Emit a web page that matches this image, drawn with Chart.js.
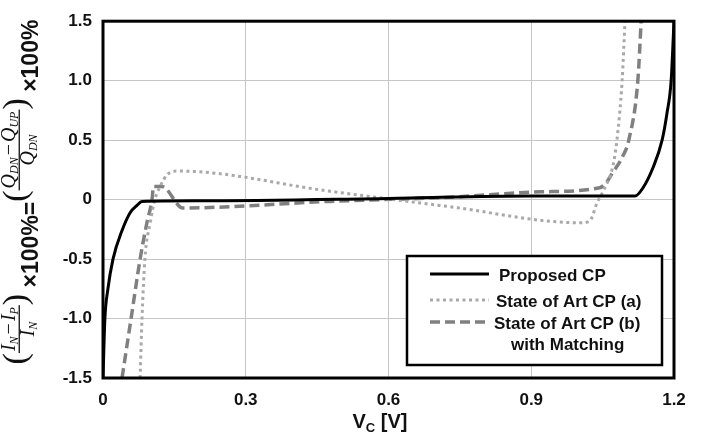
<!DOCTYPE html>
<html>
<head>
<meta charset="utf-8">
<script src="https://cdn.jsdelivr.net/npm/chart.js@4.4.1/dist/chart.umd.min.js"></script>
<style>
  html, body { margin: 0; padding: 0; background: #fff; }
</style>
</head>
<body>
<canvas id="cpChart" width="707" height="435"></canvas>
<script>
// V_C [V] and mismatch error [%]
const vcProposed  = [0, 0.004, 0.01, 0.021, 0.04, 0.057, 0.071, 0.082, 0.2, 0.6, 0.9, 1.118, 1.135, 1.156, 1.175, 1.185, 1.194, 1.2];
const errProposed = [-1.5, -1.0, -0.76, -0.5, -0.26, -0.11, -0.05, -0.015, -0.01, 0.01, 0.03, 0.03, 0.1, 0.27, 0.5, 0.72, 1.0, 1.5];

const vcArtA  = [0.078, 0.082, 0.088, 0.099, 0.109, 0.12, 0.135, 0.158, 0.477, 0.729, 1.002, 1.023, 1.038, 1.051, 1.072, 1.08, 1.091, 1.097];
const errArtA = [-1.5, -1.0, -0.5, -0.2, 0, 0.11, 0.21, 0.24, 0.07, -0.06, -0.195, -0.18, -0.03, 0.07, 0.29, 0.5, 1.0, 1.5];

const vcArtB  = [0.04, 0.059, 0.078, 0.092, 0.103, 0.106, 0.124, 0.168, 0.477, 0.729, 0.918, 1.044, 1.059, 1.07, 1.093, 1.105, 1.124, 1.131];
const errArtB = [-1.5, -1.0, -0.5, -0.2, 0, 0.11, 0.11, -0.07, -0.015, 0.02, 0.065, 0.1, 0.15, 0.22, 0.37, 0.5, 1.0, 1.5];

const xTicks = [0, 0.3, 0.6, 0.9, 1.2];
const xTickLabels = ['0', '0.3', '0.6', '0.9', '1.2'];
const yTicks = [-1.5, -1.0, -0.5, 0, 0.5, 1.0, 1.5];
const yTickLabels = ['-1.5', '-1.0', '-0.5', '0', '0.5', '1.0', '1.5'];

const seriesNames = [['Proposed CP'], ['State of Art CP (a)'], ['State of Art CP (b)', 'with Matching']];

const toPts = (xs, ys) => xs.map((x, i) => ({x: x, y: ys[i]}));

// frame, legend and the two axis titles
const extras = {
  id: 'extras',
  afterDatasetsDraw(chart) {
    const ctx = chart.ctx, a = chart.chartArea;
    ctx.save();
    ctx.strokeStyle = '#000';
    ctx.lineWidth = 3;
    ctx.strokeRect(a.left, a.top, a.right - a.left, a.bottom - a.top);

    // legend box
    ctx.fillStyle = '#fff';
    ctx.fillRect(407, 256, 255, 109);
    ctx.lineWidth = 2.5;
    ctx.strokeRect(407, 256, 255, 109);
    const rowY = [274, 300, 322];
    const textX = [499, 496, 494];
    ctx.font = 'bold 17px "Liberation Sans"';
    ctx.textBaseline = 'middle';
    chart.data.datasets.forEach((ds, i) => {
      ctx.beginPath();
      ctx.strokeStyle = ds.borderColor;
      ctx.lineWidth = ds.borderWidth;
      ctx.setLineDash(ds.borderDash || []);
      ctx.moveTo(430, rowY[i]);
      ctx.lineTo(489, rowY[i]);
      ctx.stroke();
      ctx.setLineDash([]);
      ctx.fillStyle = '#111';
      ctx.textAlign = 'left';
      ctx.fillText(seriesNames[i][0], textX[i], rowY[i] + 2);
      if (seriesNames[i][1]) ctx.fillText(seriesNames[i][1], 511, rowY[i] + 23);
    });

    // x title  V_C [V]
    ctx.fillStyle = '#111';
    ctx.textBaseline = 'alphabetic';
    ctx.textAlign = 'left';
    const big = 'bold 20px "Liberation Sans"', small = 'bold 13px "Liberation Sans"';
    ctx.font = big; const w1 = ctx.measureText('V').width, w3 = ctx.measureText(' [V]').width;
    ctx.font = small; const w2 = ctx.measureText('C').width;
    let x0 = 380 - (w1 + w2 + w3) / 2;
    ctx.font = big; ctx.fillText('V', x0, 428);
    ctx.font = small; ctx.fillText('C', x0 + w1, 432);
    ctx.font = big; ctx.fillText(' [V]', x0 + w1 + w2, 428);

    drawYTitle(ctx);
    ctx.restore();
  }
};

function drawYTitle(ctx) {
  const mainF = 'bold 23px "Liberation Sans"';
  const varF = 'italic 20px "Liberation Serif"';
  const subF = 'italic 12px "Liberation Serif"';
  const opF = '20px "Liberation Serif"';
  const parF = '34px "Liberation Serif"';
  const mw = (f, s) => { ctx.font = f; return ctx.measureText(s).width; };
  const tokW = t => t.op ? mw(opF, t.op) + 4 : mw(varF, t.v) + mw(subF, t.s);
  const rowW = r => r.reduce((s, t) => s + tokW(t), 0);
  const drawRow = (r, u, v) => {
    r.forEach(t => {
      if (t.op) { ctx.font = opF; ctx.fillText(t.op, u + 2, v); u += tokW(t); }
      else {
        ctx.font = varF; ctx.fillText(t.v, u, v); u += mw(varF, t.v);
        ctx.font = subF; ctx.fillText(t.s, u, v + 3); u += mw(subF, t.s);
      }
    });
  };
  const frac = (num, den) => ({
    w: Math.max(rowW(num), rowW(den)) + 4,
    draw(u) {
      const w = this.w;
      drawRow(num, u + (w - rowW(num)) / 2, 15);
      drawRow(den, u + (w - rowW(den)) / 2, 34);
      ctx.fillRect(u, 18.6, w, 1.3);
    }
  });
  const text = (s, f, v) => ({ w: mw(f, s), draw(u) { ctx.font = f; ctx.fillText(s, u, v); } });
  const pieces = [
    text('(', parF, 26),
    frac([{v: 'I', s: 'N'}, {op: '−'}, {v: 'I', s: 'P'}], [{v: 'I', s: 'N'}]),
    text(')', parF, 26),
    text(' ×100%=', mainF, 38),
    text('(', parF, 26),
    frac([{v: 'Q', s: 'DN'}, {op: '−'}, {v: 'Q', s: 'UP'}], [{v: 'Q', s: 'DN'}]),
    text(')', parF, 26),
    text(' ×100%', mainF, 38)
  ];
  const total = pieces.reduce((s, p) => s + p.w, 0);
  ctx.save();
  ctx.translate(0, 192);
  ctx.rotate(-Math.PI / 2);
  ctx.fillStyle = '#111';
  ctx.textAlign = 'left';
  ctx.textBaseline = 'alphabetic';
  let u = -total / 2;
  pieces.forEach(p => { p.draw(u); u += p.w; });
  ctx.restore();
}

new Chart(document.getElementById('cpChart'), {
  type: 'line',
  data: {
    datasets: [
      { label: seriesNames[0].join(' '), data: toPts(vcProposed, errProposed),
        borderColor: '#000', borderWidth: 3 },
      { label: seriesNames[1].join(' '), data: toPts(vcArtA, errArtA),
        borderColor: '#a9a9a9', borderWidth: 3, borderDash: [3, 3.5] },
      { label: seriesNames[2].join(' '), data: toPts(vcArtB, errArtB),
        borderColor: '#808080', borderWidth: 3.5, borderDash: [10, 5] }
    ]
  },
  options: {
    responsive: false,
    animation: false,
    devicePixelRatio: 1,
    layout: { padding: { top: 11, right: 33, left: 0, bottom: 0 } },
    elements: { point: { radius: 0 }, line: { cubicInterpolationMode: 'monotone', fill: false } },
    plugins: { legend: { display: false }, tooltip: { enabled: false } },
    scales: {
      x: {
        type: 'linear', min: 0, max: 1.2,
        afterFit: s => { s.height = 57; },
        afterBuildTicks: s => { s.ticks = xTicks.map(v => ({value: v})); },
        grid: { color: '#c6c6c6', lineWidth: 1, drawTicks: false },
        border: { display: false },
        ticks: {
          padding: 12, color: '#111', maxRotation: 0,
          font: { family: '"Liberation Sans"', weight: 'bold', size: 17 },
          callback: v => xTickLabels[xTicks.indexOf(v)]
        }
      },
      y: {
        type: 'linear', min: -1.5, max: 1.5,
        afterFit: s => { s.width = 103; },
        afterBuildTicks: s => { s.ticks = yTicks.map(v => ({value: v})); },
        grid: { color: '#c6c6c6', lineWidth: 1, drawTicks: false },
        border: { display: false },
        ticks: {
          padding: 11, color: '#111',
          font: { family: '"Liberation Sans"', weight: 'bold', size: 17 },
          callback: v => yTickLabels[yTicks.indexOf(v)]
        }
      }
    }
  },
  plugins: [extras]
});
</script>
</body>
</html>
